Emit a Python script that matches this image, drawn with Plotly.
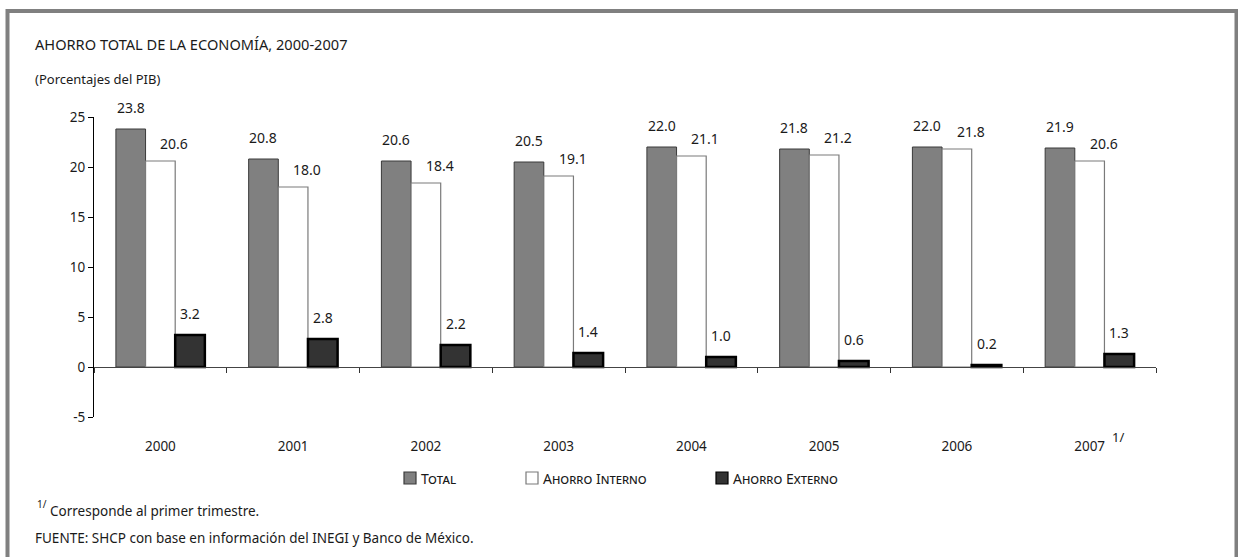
import plotly.graph_objects as go

# ---- data ----
years = ["2000", "2001", "2002", "2003", "2004", "2005", "2006", "2007"]
series_names = ["Total", "Ahorro Interno", "Ahorro Externo"]
total = [23.8, 20.8, 20.6, 20.5, 22.0, 21.8, 22.0, 21.9]
interno = [20.6, 18.0, 18.4, 19.1, 21.1, 21.2, 21.8, 20.6]
externo = [3.2, 2.8, 2.2, 1.4, 1.0, 0.6, 0.2, 1.3]
y_ticks = [-5, 0, 5, 10, 15, 20, 25]
y_tick_labels = ["-5", "0", "5", "10", "15", "20", "25"]

title_text = "AHORRO TOTAL DE LA ECONOMÍA, 2000-2007"
subtitle_text = "(Porcentajes del PIB)"
note_mark = "1/"
note_text = "Corresponde al primer trimestre."
source_text = "FUENTE: SHCP con base en información del INEGI y Banco de México."

# ---- layout geometry (pixels) ----
W, H = 1238, 557
L, R, T, B = 94, 1156, 117, 417
PW, PH = R - L, B - T
YMIN, YMAX = -5, 25


def xp(px):
    return (px - L) / PW


def yp(py):
    return (B - py) / PH


FONT = "Noto Sans"
TXT = "#1a1a1a"

fills = ["#808080", "#ffffff", "#333333"]
edges = ["#3a3a3a", "#7a7a7a", "#000000"]
edge_w = [1, 1.2, 2.5]
values = [total, interno, externo]

fig = go.Figure()
for name, vals, fc, ec, ew in zip(series_names, values, fills, edges, edge_w):
    fig.add_trace(go.Bar(
        name=name, x=years, y=vals,
        marker=dict(color=fc, line=dict(color=ec, width=ew)),
        showlegend=False, hoverinfo="x+y+name",
    ))

annotations = []
bar_px = PW / len(years) * (1 - 0.33) / 3
bar_offsets = [-bar_px, 0, bar_px]
label_dx = [0, 14, 0]
label_dy = [22, 18, 22]
for si, vals in enumerate(values):
    for ci, v in enumerate(vals):
        annotations.append(dict(
            x=ci, y=v, xref="x", yref="y", text=f"{v:.1f}", showarrow=False,
            xanchor="center", yanchor="middle",
            xshift=bar_offsets[si] + label_dx[si], yshift=label_dy[si],
            font=dict(family=FONT, size=14, color=TXT),
        ))

# superscript mark after 2007
annotations.append(dict(
    x=len(years) - 1, y=yp(437), xref="x", yref="paper", text=note_mark, showarrow=False,
    xanchor="left", yanchor="middle", xshift=20,
    font=dict(family=FONT, size=13, color=TXT),
))

# title / subtitle / notes
annotations += [
    dict(x=xp(33), y=yp(44), xref="paper", yref="paper", text=title_text,
         showarrow=False, xanchor="left", yanchor="middle",
         font=dict(family=FONT, size=14.6, color=TXT)),
    dict(x=xp(33), y=yp(79), xref="paper", yref="paper", text=subtitle_text,
         showarrow=False, xanchor="left", yanchor="middle",
         font=dict(family=FONT, size=13, color=TXT)),
    dict(x=xp(35), y=yp(504), xref="paper", yref="paper", text=note_mark,
         showarrow=False, xanchor="left", yanchor="middle",
         font=dict(family=FONT, size=10, color=TXT)),
    dict(x=xp(48), y=yp(511), xref="paper", yref="paper", text=note_text,
         showarrow=False, xanchor="left", yanchor="middle",
         font=dict(family=FONT, size=13.5, color=TXT)),
    dict(x=xp(33), y=yp(538), xref="paper", yref="paper", text=source_text,
         showarrow=False, xanchor="left", yanchor="middle",
         font=dict(family=FONT, size=13.5, color=TXT)),
]

# manual legend
shapes = []
leg_x = [404, 526, 716]
leg_y = 478
for i, name in enumerate(series_names):
    shapes.append(dict(type="rect", xref="paper", yref="paper",
                       x0=xp(leg_x[i]), x1=xp(leg_x[i] + 12),
                       y0=yp(leg_y + 6), y1=yp(leg_y - 6),
                       fillcolor=fills[i], line=dict(color=edges[i], width=1.2)))
    annotations.append(dict(x=xp(leg_x[i] + 15), y=yp(leg_y), xref="paper", yref="paper",
                            text=name, showarrow=False, xanchor="left", yanchor="middle",
                            font=dict(family=FONT, size=14, color=TXT, variant="small-caps")))

# outer frame
shapes.append(dict(type="rect", xref="paper", yref="paper",
                   x0=xp(7.5), x1=xp(1236.5), y0=yp(580), y1=yp(11),
                   line=dict(color="#808080", width=4), fillcolor="rgba(0,0,0,0)", layer="above"))

fig.update_layout(
    width=W, height=H, autosize=False,
    margin=dict(l=L, r=W - R, t=T, b=H - B, pad=0),
    paper_bgcolor="white", plot_bgcolor="white",
    barmode="group", bargap=0.33, bargroupgap=0,
    font=dict(family=FONT, size=13, color=TXT),
    annotations=annotations, shapes=shapes,
    xaxis=dict(
        type="category", categoryorder="array", categoryarray=years,
        range=[-0.5, len(years) - 0.5], autorange=False,
        anchor="free", position=(0 - YMIN) / (YMAX - YMIN),
        showline=True, linecolor="#444444", linewidth=1,
        ticks="outside", tickson="boundaries", ticklen=5, tickcolor="#333333",
        showgrid=False, zeroline=False, tickangle=0,
        tickfont=dict(family=FONT, size=13.5, color=TXT),
        ticklabelstandoff=67,
    ),
    yaxis=dict(
        range=[YMIN, YMAX], tickvals=y_ticks, ticktext=y_tick_labels, autorange=False,
        showline=True, linecolor="#000000", linewidth=1,
        ticks="outside", ticklen=5, tickcolor="#000000",
        showgrid=False, zeroline=False,
        tickfont=dict(family=FONT, size=13.5, color=TXT),
    ),
)

fig.write_html("out.html", config={"displayModeBar": False},
               post_script="document.body.style.margin='0';")
